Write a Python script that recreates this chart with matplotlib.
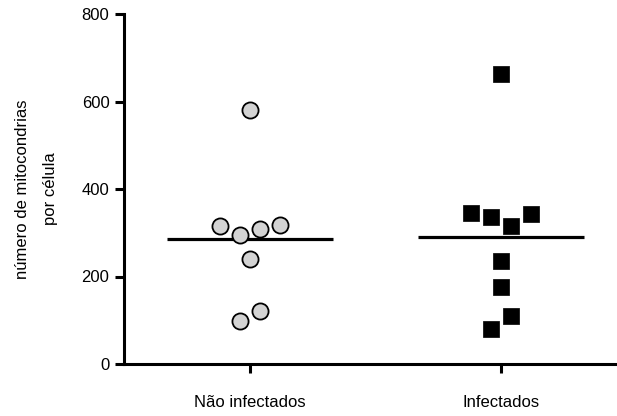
import numpy as np
import matplotlib
matplotlib.use("Agg")
import matplotlib.pyplot as plt

plt.rcParams['font.family'] = ['Liberation Sans', 'DejaVu Sans']

groups = ['Não infectados', 'Infectados']
nao_infectados = [580, 315, 295, 308, 318, 241, 99, 121]
infectados = [662, 346, 335, 316, 343, 236, 175, 81, 110]
ylabel = 'número de mitocondrias\npor célula'


def swarm(values, gap=40, step=0.08):
    # points whose values sit close together share a row and get spread sideways
    vals = np.asarray(values, dtype=float)
    order = np.argsort(vals, kind='stable')
    rows, cur = [], [order[0]]
    for i in order[1:]:
        if vals[i] - vals[cur[-1]] < gap:
            cur.append(i)
        else:
            rows.append(cur)
            cur = [i]
    rows.append(cur)
    offs = np.zeros(len(vals))
    for row in rows:
        row = sorted(row)  # keep data order within a row
        n = len(row)
        for k, i in enumerate(row):
            offs[i] = (k - (n - 1) / 2) * step
    return offs


fig = plt.figure(figsize=(6.17, 4.16), dpi=100)
ax = fig.add_axes([124 / 617, 52 / 416, 493 / 617, 350 / 416])

data = [nao_infectados, infectados]
for i, vals in enumerate(data):
    x = i + swarm(vals)
    if i == 0:
        ax.scatter(x, vals, s=135, marker='o', facecolor='#d3d3d3',
                   edgecolor='black', linewidth=1.3, zorder=3, clip_on=False)
    else:
        ax.scatter(x, vals, s=125, marker='s', facecolor='black',
                   edgecolor='black', linewidth=0.5, zorder=3, clip_on=False)
    m = np.mean(vals)
    ax.plot([i - 0.33, i + 0.33], [m, m], color='black', lw=2.3,
            solid_capstyle='butt', zorder=2)

ax.set_xlim(-0.5, 1.46)
ax.set_ylim(0, 800)
ax.set_yticks([0, 200, 400, 600, 800])
ax.set_xticks([0, 1])
ax.set_xticklabels(groups)

for s in ['top', 'right']:
    ax.spines[s].set_visible(False)
for s in ['left', 'bottom']:
    ax.spines[s].set_linewidth(2.2)
    ax.spines[s].set_capstyle('projecting')

ax.tick_params(axis='both', direction='out', length=6.5, width=2.2,
               colors='black')
ax.tick_params(axis='y', labelsize=12, pad=4)
ax.tick_params(axis='x', labelsize=12, pad=16)

ax.set_ylabel(ylabel, fontsize=12, labelpad=17, linespacing=2.1)

fig.savefig('out.png', dpi=100)
